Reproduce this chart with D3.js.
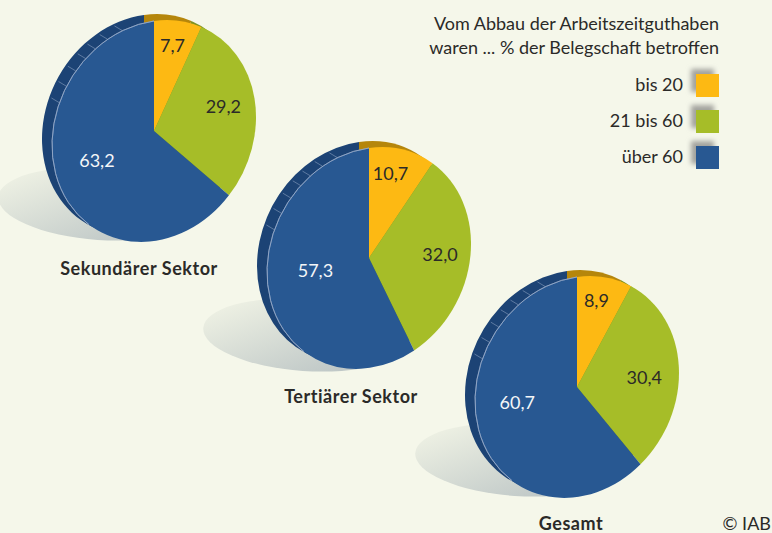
<!DOCTYPE html>
<html>
<head>
<meta charset="utf-8">
<script src="https://d3js.org/d3.v7.min.js"></script>
<style>
  html, body { margin: 0; padding: 0; background: #f5f7ea; }
  svg { display: block; }
  text { font-family: "Lato", sans-serif; fill: #2b2a28; }
</style>
</head>
<body>
<div id="chart"></div>
<script>
const categories = ["bis 20", "21 bis 60", "über 60"];
const sectors = ["Sekundärer Sektor", "Tertiärer Sektor", "Gesamt"];
const sekundaer = [7.7, 29.2, 63.2];
const tertiaer = [10.7, 32.0, 57.3];
const gesamt = [8.9, 30.4, 60.7];
const legendTitle = ["Vom Abbau der Arbeitszeitguthaben", "waren ... % der Belegschaft betroffen"];
const rimTicks = [-18, -27, -35, -42, -50, -59, -68];

const width = 772, height = 533;
const colors = ["#fdb913", "#a6bd28", "#285892"];
const rimColors = ["#b5860b", "#7f9220", "#1c4375"];

// pie layout, label nudges are hand placed like in the original
const panels = [
  { values: sekundaer, cx: 154, cy: 131, titleX: 139, titleY: 275, shadow: [-54, 73], nudge: [[0, -2], [-1, -2], [-1, -5]] },
  { values: tertiaer, cx: 369, cy: 258, titleX: 351, titleY: 403, shadow: [-64, 77], nudge: [[-4, -2], [0, -2], [6, -11]] },
  { values: gesamt, cx: 577, cy: 387, titleX: 571, titleY: 530, shadow: [-60, 73], nudge: [[-2, -3], [-4, 5], [-2, -14]] }
];

const labelRadius = [0.76, 0.7, 0.6];
const rimOffset = { x: -10, y: -6 };
const r = 100;
// the discs are tilted: unit circle sheared and stretched
const sx = 1.02, shear = -0.14, sy = 1.1;
const tilt = `matrix(${sx},${shear},0,${sy},0,0)`;

function onDisc(angle, radius) {
  return [sx * radius * Math.sin(angle), shear * radius * Math.sin(angle) - sy * radius * Math.cos(angle)];
}

const svg = d3.select("#chart").append("svg")
  .attr("width", width)
  .attr("height", height)
  .attr("viewBox", `0 0 ${width} ${height}`);

const defs = svg.append("defs");

const shadowGradient = defs.append("linearGradient")
  .attr("id", "shadow-fade")
  .attr("x1", "0").attr("y1", "0.3")
  .attr("x2", "0.8").attr("y2", "0.9");
shadowGradient.append("stop").attr("offset", "0").attr("stop-color", "#edf0e3");
shadowGradient.append("stop").attr("offset", "1").attr("stop-color", "#bcc5c5");

const blur = defs.append("filter").attr("id", "swatch-blur")
  .attr("x", "-50%").attr("y", "-50%").attr("width", "200%").attr("height", "200%");
blur.append("feGaussianBlur").attr("stdDeviation", 2.5);

const pie = d3.pie().sort(null);
const arc = d3.arc().innerRadius(0).outerRadius(r);

panels.forEach((panel, p) => {
  const arcs = pie(panel.values);
  const g = svg.append("g").attr("transform", `translate(${panel.cx},${panel.cy})`);

  // Shadow
  g.append("ellipse")
    .attr("cx", 0).attr("cy", 0)
    .attr("rx", 102).attr("ry", 36)
    .attr("transform", `translate(${panel.shadow[0]},${panel.shadow[1]}) rotate(4)`)
    .attr("fill", "url(#shadow-fade)");

  // Back disc gives the rim
  g.append("g")
    .attr("transform", `translate(${rimOffset.x},${rimOffset.y}) ${tilt}`)
    .selectAll("path")
    .data(arcs)
    .enter().append("path")
    .attr("d", arc)
    .attr("fill", (d, i) => rimColors[i]);

  // Light ticks on the rim
  g.selectAll(".rim-tick")
    .data(rimTicks)
    .enter().append("line")
    .attr("class", "rim-tick")
    .attr("x1", d => onDisc(d * Math.PI / 180, r)[0])
    .attr("y1", d => onDisc(d * Math.PI / 180, r)[1])
    .attr("x2", d => onDisc(d * Math.PI / 180, r)[0] + rimOffset.x * 0.8)
    .attr("y2", d => onDisc(d * Math.PI / 180, r)[1] + rimOffset.y * 0.8)
    .attr("stroke", "#8aa0c0")
    .attr("stroke-width", 0.6);

  // Front disc
  g.append("g")
    .attr("transform", tilt)
    .selectAll("path")
    .data(arcs)
    .enter().append("path")
    .attr("d", arc)
    .attr("fill", (d, i) => colors[i]);

  // Thin light edge along the left side of the blue slice
  const edge = d3.arc()
    .innerRadius(r).outerRadius(r)
    .startAngle(Math.PI * 1.22).endAngle(Math.PI * 2);
  g.append("path")
    .attr("transform", tilt)
    .attr("d", edge())
    .attr("fill", "none")
    .attr("stroke", "#9db0cc")
    .attr("stroke-width", 0.6);

  // Value labels
  g.selectAll(".value")
    .data(arcs)
    .enter().append("text")
    .attr("class", "value")
    .attr("x", (d, i) => onDisc((d.startAngle + d.endAngle) / 2, r * labelRadius[i])[0] + panel.nudge[i][0])
    .attr("y", (d, i) => onDisc((d.startAngle + d.endAngle) / 2, r * labelRadius[i])[1] + panel.nudge[i][1])
    .attr("dy", "0.36em")
    .attr("text-anchor", "middle")
    .attr("font-size", 18)
    .style("fill", (d, i) => i === 2 ? "#f4f6f8" : "#2b2a28")
    .text(d => d3.format(".1f")(d.data).replace(".", ","));

  // Sector name
  svg.append("text")
    .attr("x", panel.titleX)
    .attr("y", panel.titleY)
    .attr("text-anchor", "middle")
    .attr("font-size", 18)
    .attr("font-weight", 700)
    .attr("letter-spacing", 0.55)
    .text(sectors[p]);
});

// Legend
const legendRight = 719;
svg.selectAll(".legend-title")
  .data(legendTitle)
  .enter().append("text")
  .attr("class", "legend-title")
  .attr("x", legendRight)
  .attr("y", (d, i) => 30 + i * 24)
  .attr("text-anchor", "end")
  .attr("font-size", 18)
  .text(d => d);

const legendY = d3.scalePoint().domain(categories).range([74, 146]);
const swatch = 23;

const legend = svg.selectAll(".legend-row")
  .data(categories)
  .enter().append("g")
  .attr("class", "legend-row")
  .attr("transform", d => `translate(${legendRight - swatch},${legendY(d)})`);

legend.append("rect")
  .attr("x", -5).attr("y", -5)
  .attr("width", swatch).attr("height", swatch)
  .attr("fill", "#a3a39e")
  .attr("filter", "url(#swatch-blur)");

legend.append("rect")
  .attr("width", swatch).attr("height", swatch)
  .attr("fill", (d, i) => colors[i]);

legend.append("text")
  .attr("x", -13)
  .attr("y", 17)
  .attr("text-anchor", "end")
  .attr("font-size", 18)
  .text(d => d);

svg.append("text")
  .attr("x", 771)
  .attr("y", 530)
  .attr("text-anchor", "end")
  .attr("font-size", 18)
  .text("© IAB");
</script>
</body>
</html>
